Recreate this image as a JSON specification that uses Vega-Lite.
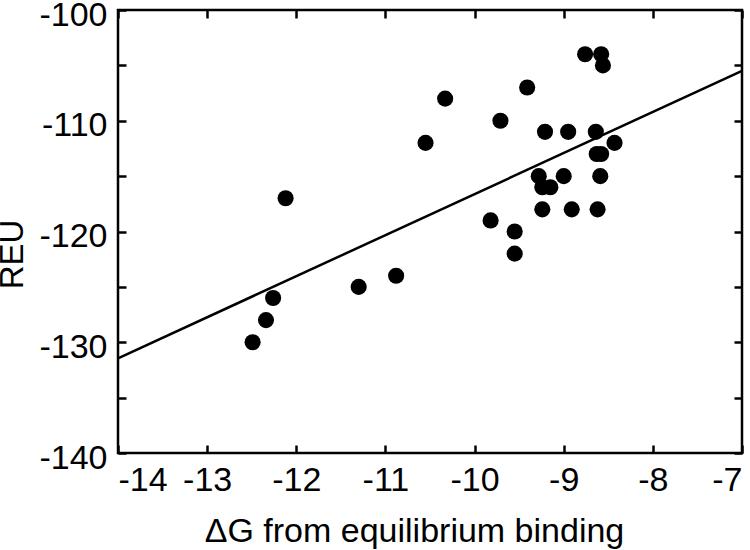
{
  "$schema": "https://vega.github.io/schema/vega-lite/v6.json",
  "autosize": {"type": "none"},
  "width": 624,
  "height": 443,
  "padding": {"left": 118, "top": 10, "right": 8, "bottom": 97},
  "background": "white",
  "config": {
    "view": {"stroke": "black", "strokeWidth": 2.5},
    "font": "Liberation Sans",
    "axis": {
      "domain": false,
      "grid": false,
      "tickSize": -8,
      "tickWidth": 2.5,
      "tickColor": "black",
      "labelColor": "black",
      "labelFontSize": 34,
      "labelFont": "Liberation Sans",
      "titleFont": "Liberation Sans",
      "titleFontSize": 33,
      "titleFontWeight": "normal",
      "titleColor": "black"
    }
  },
  "datasets": {
    "pts": [
      {"dG": -12.49, "REU": -130},
      {"dG": -12.34, "REU": -128},
      {"dG": -12.26, "REU": -126},
      {"dG": -12.12, "REU": -117},
      {"dG": -11.3, "REU": -125},
      {"dG": -10.88, "REU": -124},
      {"dG": -10.55, "REU": -112},
      {"dG": -10.33, "REU": -108},
      {"dG": -9.82, "REU": -119},
      {"dG": -9.71, "REU": -110},
      {"dG": -9.55, "REU": -120},
      {"dG": -9.55, "REU": -122},
      {"dG": -9.41, "REU": -107},
      {"dG": -9.28, "REU": -115},
      {"dG": -9.24, "REU": -116},
      {"dG": -9.24, "REU": -118},
      {"dG": -9.21, "REU": -111},
      {"dG": -9.15, "REU": -116},
      {"dG": -9.0, "REU": -115},
      {"dG": -8.95, "REU": -111},
      {"dG": -8.91, "REU": -118},
      {"dG": -8.76, "REU": -104},
      {"dG": -8.58, "REU": -104},
      {"dG": -8.56, "REU": -105},
      {"dG": -8.64, "REU": -111},
      {"dG": -8.63, "REU": -113},
      {"dG": -8.58, "REU": -113},
      {"dG": -8.59, "REU": -115},
      {"dG": -8.62, "REU": -118},
      {"dG": -8.43, "REU": -112}
    ],
    "fit": [
      {"dG": -14, "REU": -131.45},
      {"dG": -7, "REU": -105.5}
    ]
  },
  "layer": [
    {
      "data": {"name": "pts"},
      "mark": {"type": "circle", "size": 260, "color": "black", "opacity": 1},
      "encoding": {
        "x": {
          "field": "dG", "type": "quantitative",
          "scale": {"domain": [-14, -7], "nice": false, "zero": false},
          "axis": {
            "orient": "bottom",
            "values": [-14, -13, -12, -11, -10, -9, -8, -7],
            "labelExpr": "'' + datum.value",
            "title": "ΔG from equilibrium binding",
            "titleFontSize": 34,
            "titlePadding": 17,
            "titleX": 296,
            "labelPadding": 18
          }
        },
        "y": {
          "field": "REU", "type": "quantitative",
          "scale": {"domain": [-140, -100], "nice": false, "zero": false},
          "axis": {
            "orient": "left",
            "values": [-140, -135, -130, -125, -120, -115, -110, -105, -100],
            "labelExpr": "datum.value % 10 == 0 ? '' + datum.value : ''",
            "title": "REU",
            "labelPadding": 19,
            "titlePadding": 9,
            "titleY": 244,
            "labelOffset": 5
          }
        }
      }
    },
    {
      "data": {"name": "fit"},
      "mark": {"type": "line", "color": "black", "strokeWidth": 2.5},
      "encoding": {
        "x": {
          "field": "dG", "type": "quantitative",
          "scale": {"domain": [-14, -7], "nice": false, "zero": false},
          "axis": {
            "orient": "top",
            "values": [-14, -13, -12, -11, -10, -9, -8, -7],
            "labels": false,
            "title": null
          }
        },
        "y": {
          "field": "REU", "type": "quantitative",
          "scale": {"domain": [-140, -100], "nice": false, "zero": false},
          "axis": {
            "orient": "right",
            "values": [-140, -135, -130, -125, -120, -115, -110, -105, -100],
            "labels": false,
            "title": null
          }
        }
      }
    }
  ],
  "resolve": {"axis": {"x": "independent", "y": "independent"}}
}
